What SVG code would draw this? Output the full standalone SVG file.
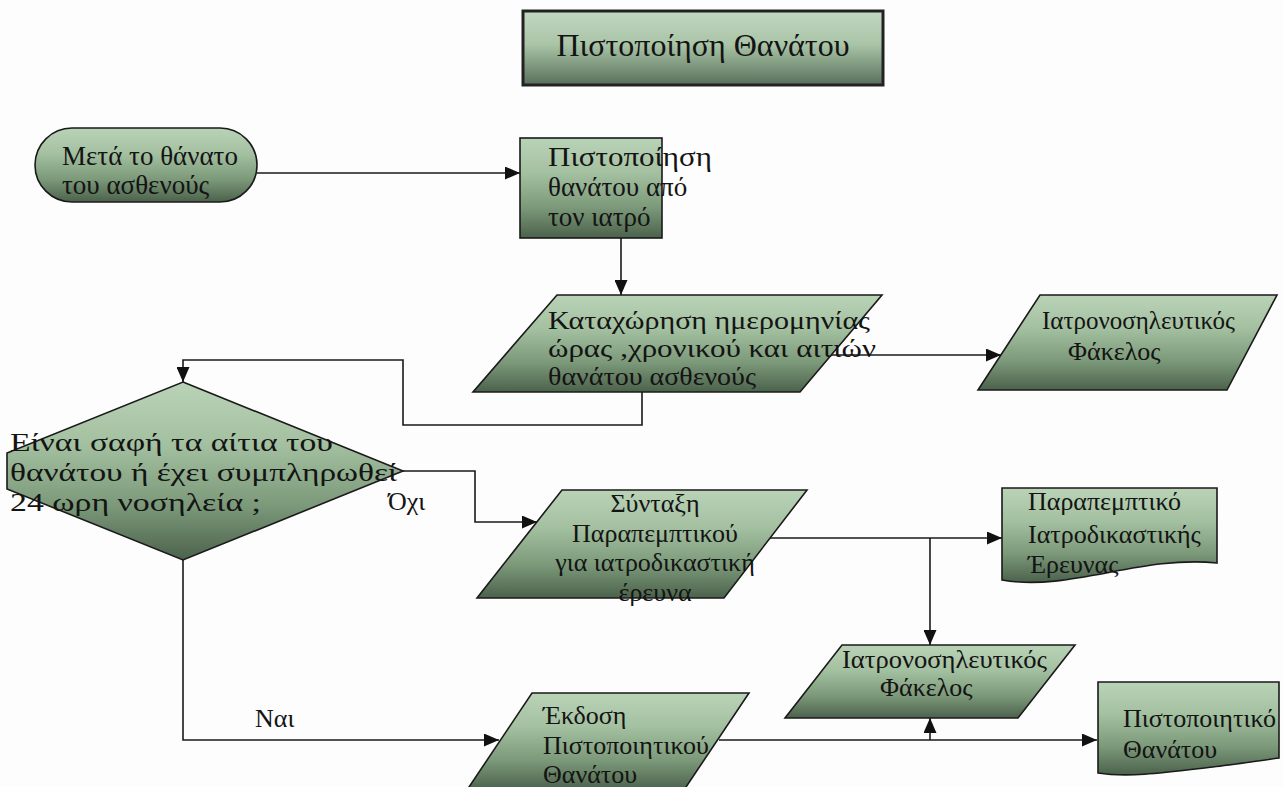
<svg xmlns="http://www.w3.org/2000/svg" width="1283" height="787" viewBox="0 0 1283 787">
  <defs>
    <linearGradient id="fillGreen" x1="0" y1="0" x2="0" y2="1">
      <stop offset="0" stop-color="#bad3b7"/>
      <stop offset="0.35" stop-color="#a3c0a0"/>
      <stop offset="0.7" stop-color="#7b9879"/>
      <stop offset="1" stop-color="#4b624b"/>
    </linearGradient>
    <linearGradient id="fillTitle" x1="0" y1="0" x2="0" y2="1">
      <stop offset="0" stop-color="#c3d8c2"/>
      <stop offset="0.45" stop-color="#a9c4a7"/>
      <stop offset="1" stop-color="#58705a"/>
    </linearGradient>
    <marker id="arrow" viewBox="0 0 15 13" refX="15" refY="6.5" markerWidth="15" markerHeight="13" markerUnits="userSpaceOnUse" orient="auto">
      <path d="M0,0 L15,6.5 L0,13 Z" fill="#111"/>
    </marker>
    <style>
      .shape { fill: url(#fillGreen); stroke: #1a1a1a; stroke-width: 1.6; }
      .title { fill: url(#fillTitle); stroke: #222; stroke-width: 3; }
      text { font-family: 'Liberation Serif', 'Times New Roman', serif; font-size: 26px; fill: #141414; }
      .big { font-size: 32px; }
      .mid { font-size: 27px; }
      .conn { fill: none; stroke: #1a1a1a; stroke-width: 1.6; }
      .arr { marker-end: url(#arrow); }
    </style>
  </defs>

  <rect x="0" y="0" width="1283" height="787" fill="#fdfdfd"/>

  <!-- heading -->
  <g id="title">
    <rect class="title" x="523" y="11" width="360" height="74"/>
    <text class="big" x="703" y="56" text-anchor="middle">Πιστοποίηση Θανάτου</text>
  </g>

  <!-- connectors and branch labels -->
  <g id="connectors">
    <line class="conn arr" x1="257" y1="173" x2="520" y2="173"/>
    <line class="conn arr" x1="621" y1="238" x2="621" y2="295"/>
    <line class="conn arr" x1="831" y1="355" x2="1001" y2="355"/>
    <polyline class="conn arr" points="642,392 642,425 403,425 403,360 183,360 183,382"/>
    <polyline class="conn arr" points="403,471 475,471 475,522 537,522"/>
    <line class="conn arr" x1="769" y1="538" x2="1002" y2="538"/>
    <line class="conn arr" x1="930" y1="538" x2="930" y2="645"/>
    <polyline class="conn arr" points="183,560 183,740 499,740"/>
    <line class="conn arr" x1="719" y1="740" x2="1097" y2="740"/>
    <line class="conn arr" x1="930" y1="740" x2="930" y2="718"/>
    <text x="388" y="510">Όχι</text>
    <text x="255" y="727">Ναι</text>
  </g>

  <g id="start">
    <rect class="shape" x="35" y="128" width="222" height="74" rx="37" ry="37"/>
    <text class="mid" x="62" y="165">Μετά το θάνατο</text>
    <text class="mid" x="62" y="194">του ασθενούς</text>
  </g>

  <g id="certify">
    <rect class="shape" x="520" y="138" width="142" height="100"/>
    <text class="mid" x="548" y="166" textLength="164" lengthAdjust="spacingAndGlyphs">Πιστοποίηση</text>
    <text class="mid" x="548" y="196">θανάτου από</text>
    <text class="mid" x="548" y="226">τον ιατρό</text>
  </g>

  <g id="record">
    <polygon class="shape" points="557,295 882,295 800,392 473,392"/>
    <text x="548" y="329" textLength="322" lengthAdjust="spacingAndGlyphs">Καταχώρηση ημερομηνίας</text>
    <text x="548" y="357" textLength="328" lengthAdjust="spacingAndGlyphs">ώρας ,χρονικού και αιτιών</text>
    <text x="548" y="385" textLength="208" lengthAdjust="spacingAndGlyphs">θανάτου ασθενούς</text>
  </g>

  <g id="file-top">
    <polygon class="shape" points="1040,295 1277,295 1227,390 978,390"/>
    <text x="1042" y="329" textLength="193" lengthAdjust="spacingAndGlyphs">Ιατρονοσηλευτικός</text>
    <text x="1068" y="360">Φάκελος</text>
  </g>

  <g id="decision">
    <polygon class="shape" points="183,382 403,471 183,560 7,489 7,453"/>
    <text x="10" y="451" textLength="323" lengthAdjust="spacingAndGlyphs">Είναι σαφή τα αίτια του</text>
    <text x="10" y="481" textLength="387" lengthAdjust="spacingAndGlyphs">θανάτου ή έχει συμπληρωθεί</text>
    <text x="10" y="511" textLength="251" lengthAdjust="spacingAndGlyphs">24 ωρη νοσηλεία ;</text>
  </g>

  <g id="referral">
    <polygon class="shape" points="562,490 807,490 724,598 477,598"/>
    <text x="655" y="512" text-anchor="middle">Σύνταξη</text>
    <text x="655" y="542" text-anchor="middle">Παραπεμπτικού</text>
    <text x="655" y="571" text-anchor="middle">για ιατροδικαστική</text>
    <text x="655" y="601" text-anchor="middle">έρευνα</text>
  </g>

  <g id="referral-doc">
    <path class="shape" d="M1002,488 L1217,488 L1217,563 C1140,555 1070,592 1002,580 Z"/>
    <text x="1028" y="510">Παραπεμπτικό</text>
    <text x="1028" y="543">Ιατροδικαστικής</text>
    <text x="1028" y="573">Έρευνας</text>
  </g>

  <g id="file-mid">
    <polygon class="shape" points="842,645 1075,645 1018,718 785,718"/>
    <text x="842" y="668" textLength="205" lengthAdjust="spacingAndGlyphs">Ιατρονοσηλευτικός</text>
    <text x="880" y="696">Φάκελος</text>
  </g>

  <g id="issue">
    <polygon class="shape" points="532,693 749,693 684,790 467,790"/>
    <text x="543" y="724">Έκδοση</text>
    <text x="543" y="754">Πιστοποιητικού</text>
    <text x="543" y="783">Θανάτου</text>
  </g>

  <g id="certificate-doc">
    <path class="shape" d="M1098,682 L1279,682 L1279,758 C1250,762 1230,765 1213,767 C1170,772 1130,778 1098,773 Z"/>
    <text x="1123" y="727">Πιστοποιητικό</text>
    <text x="1123" y="758">Θανάτου</text>
  </g>
</svg>
